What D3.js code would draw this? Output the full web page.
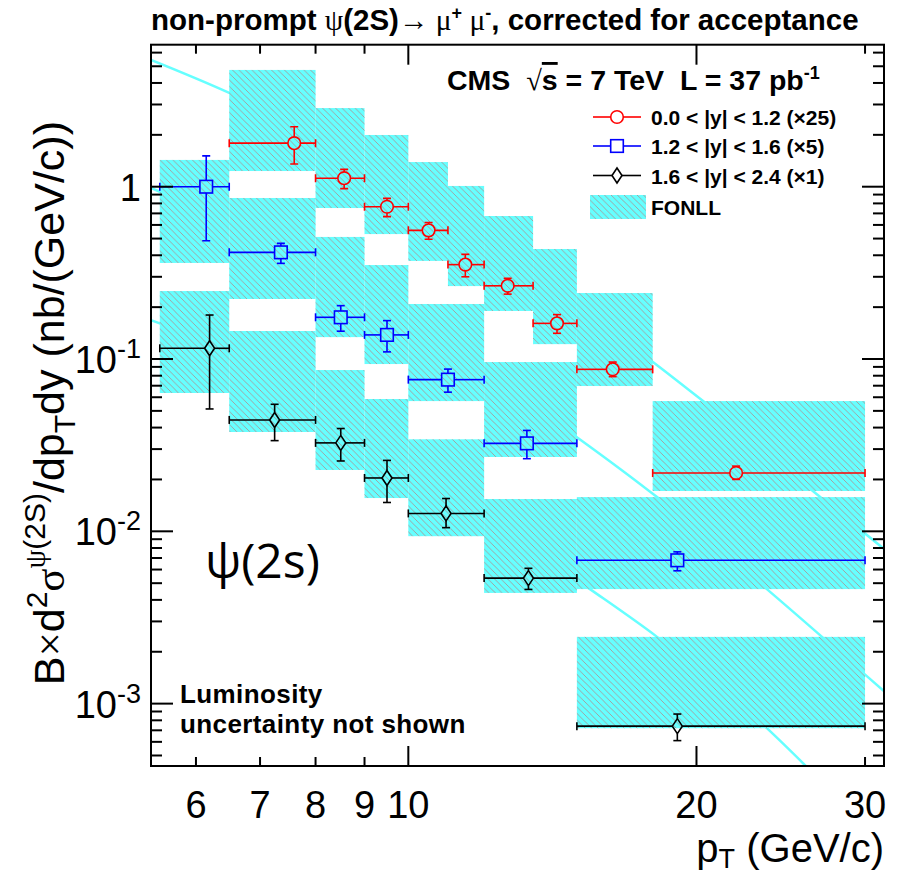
<!DOCTYPE html>
<html><head><meta charset="utf-8">
<script src="https://cdn.jsdelivr.net/npm/d3@7"></script>
<style>body{margin:0;background:#fff}svg{display:block}</style>
</head><body><svg id="c" width="905" height="876"></svg>
<script>
// ---------------- DATA ----------------
// 0.0<|y|<1.2 (x25)
const binLo0 = [6.5, 8, 9, 10, 11, 12, 13.5, 15, 18];
const binHi0 = [8, 9, 10, 11, 12, 13.5, 15, 18, 30];
const pt0    = [7.6, 8.57, 9.5, 10.5, 11.47, 12.7, 14.3, 16.35, 22.0];
const val0   = [1.79, 1.12, 0.765, 0.558, 0.353, 0.266, 0.161, 0.0871, 0.0218];
const errHi0 = [2.23, 1.26, 0.856, 0.62, 0.405, 0.294, 0.181, 0.096, 0.0239];
const errLo0 = [1.355, 0.974, 0.67, 0.495, 0.30, 0.238, 0.141, 0.079, 0.020];
const fonllHi0 = [4.76, 2.86, 1.996, 1.39, 1.01, 0.676, 0.435, 0.2415, 0.057];
const fonllLo0 = [1.233, 0.752, 0.531, 0.371, 0.265, 0.19, 0.122, 0.0697, 0.01714];
// 1.2<|y|<1.6 (x5)
const binLo1 = [5.5, 6.5, 8, 9, 10, 12, 15];
const binHi1 = [6.5, 8, 9, 10, 12, 15, 30];
const pt1    = [6.15, 7.36, 8.5, 9.5, 11.0, 13.3, 19.1];
const val1   = [1.0, 0.416, 0.1746, 0.138, 0.0759, 0.0324, 0.00679];
const errHi1 = [1.51, 0.469, 0.204, 0.167, 0.0874, 0.0385, 0.0076];
const errLo1 = [0.486, 0.359, 0.145, 0.11, 0.0642, 0.0264, 0.0059];
const fonllHi1 = [1.43, 0.86, 0.511, 0.351, 0.2086, 0.096, 0.0158];
const fonllLo1 = [0.361, 0.223, 0.134, 0.0935, 0.057, 0.027, 0.00462];
// 1.6<|y|<2.4 (x1)
const binLo2 = [5.5, 6.5, 8, 9, 10, 12, 15];
const binHi2 = [6.5, 8, 9, 10, 12, 15, 30];
const pt2    = [6.2, 7.25, 8.5, 9.5, 10.95, 13.35, 19.1];
const val2   = [0.1154, 0.0443, 0.0326, 0.0204, 0.0127, 0.00535, 0.00074];
const errHi2 = [0.18, 0.0546, 0.0395, 0.0258, 0.0155, 0.0061, 0.00087];
const errLo2 = [0.0513, 0.0336, 0.0256, 0.0147, 0.0105, 0.0046, 0.00061];
const fonllHi2 = [0.248, 0.1454, 0.0863, 0.0586, 0.0342, 0.0154, 0.00244];
const fonllLo2 = [0.0635, 0.0377, 0.0227, 0.0156, 0.00937, 0.00439, 0.00072];
// FONLL central curves
const curvePt0  = [5.385, 6.5, 18.01, 20.32, 26.46, 31.4];
const curveVal0 = [5.44, 3.50, 0.0962, 0.057, 0.01714, 0.0079];
const curvePt1  = [5.385, 5.5, 15.0, 18.19, 23.69, 31.4];
const curveVal1 = [0.983, 0.935, 0.0352, 0.0158, 0.00462, 0.00118];
const curvePt2  = [5.385, 5.5, 15.48, 18.19, 23.69, 25.96, 26.92];
const curveVal2 = [0.168, 0.161, 0.00462, 0.00244, 0.00072, 0.00044, 0.00036];
// axes
const xTicks = [6, 7, 8, 9, 10, 20, 30];
const xMajor = [10, 20];
const xTickLabels = ["6", "7", "8", "9", "10", "20", "30"];
const yLabelVals = [1, 0.1, 0.01, 0.001];
const yLabelExp  = ["", "-1", "-2", "-3"];
const legendLabels = ["0.0 < |y| < 1.2 (\u00d725)", "1.2 < |y| < 1.6 (\u00d75)", "1.6 < |y| < 2.4 (\u00d71)", "FONLL"];

// ---------------- SETUP ----------------
const L = 151, R = 884, T = 44.7, B = 766;
const svg = d3.select("#c");
const x = d3.scaleLog().domain([5.385, 31.4]).range([L, R]);
const y = d3.scaleLog().domain([4.345e-4, 6.67]).range([B, T]);
const CYAN = "#66ffff";
const SANS = "'Liberation Sans', Arial, Helvetica, sans-serif";
const SERIF = "'Liberation Serif', 'DejaVu Serif', serif";
const NB = "\u00a0";

const defs = svg.append("defs");
defs.append("clipPath").attr("id", "frame").append("rect")
  .attr("x", L).attr("y", T).attr("width", R - L).attr("height", B - T);
const pat = defs.append("pattern").attr("id", "hatch").attr("patternUnits", "userSpaceOnUse")
  .attr("width", 6.5).attr("height", 6.5);
pat.append("path").attr("d", "M-1,-1 L7.5,7.5 M-1,5.5 L1,7.5 M5.5,-1 L7.5,1")
  .attr("stroke", "#b08c8c").attr("stroke-width", 0.8).attr("fill", "none");

const plot = svg.append("g").attr("clip-path", "url(#frame)");

// curves
const line = d3.line().x(d => x(d[0])).y(d => y(d[1])).curve(d3.curveMonotoneX);
[[curvePt0, curveVal0], [curvePt1, curveVal1], [curvePt2, curveVal2]].forEach(([p, v]) => {
  plot.append("path").datum(p.map((d, i) => [d, v[i]])).attr("d", line)
    .attr("fill", "none").attr("stroke", CYAN).attr("stroke-width", 2.5);
});

// bands
const series = [
  {lo: binLo0, hi: binHi0, pt: pt0, v: val0, eh: errHi0, el: errLo0, fh: fonllHi0, fl: fonllLo0, color: "#ff0000", m: "circle"},
  {lo: binLo1, hi: binHi1, pt: pt1, v: val1, eh: errHi1, el: errLo1, fh: fonllHi1, fl: fonllLo1, color: "#0000ff", m: "square"},
  {lo: binLo2, hi: binHi2, pt: pt2, v: val2, eh: errHi2, el: errLo2, fh: fonllHi2, fl: fonllLo2, color: "#000000", m: "diamond"}
];
series.forEach(s => {
  s.lo.forEach((lo, i) => {
    const rx = x(lo), rw = x(s.hi[i]) - x(lo), ry = y(s.fh[i]), rh = y(s.fl[i]) - y(s.fh[i]);
    plot.append("rect").attr("x", rx).attr("y", ry).attr("width", rw).attr("height", rh).attr("fill", CYAN);
    plot.append("rect").attr("x", rx).attr("y", ry).attr("width", rw).attr("height", rh).attr("fill", "url(#hatch)");
  });
});

// markers
const MS = {circle: [6.3, 6.3], square: [6.3, 6.3], diamond: [5, 7.5]};
function drawMarker(g, type, cx, cy, color) {
  if (type === "circle") {
    g.append("circle").attr("cx", cx).attr("cy", cy).attr("r", MS.circle[0])
      .attr("fill", "none").attr("stroke", color).attr("stroke-width", 1.6);
  } else if (type === "square") {
    const h = MS.square[0];
    g.append("rect").attr("x", cx - h).attr("y", cy - h).attr("width", 2 * h).attr("height", 2 * h)
      .attr("fill", "none").attr("stroke", color).attr("stroke-width", 1.6);
  } else {
    const [hw, hh] = MS.diamond;
    g.append("path").attr("d", `M${cx},${cy - hh}L${cx + hw},${cy}L${cx},${cy + hh}L${cx - hw},${cy}Z`)
      .attr("fill", "none").attr("stroke", color).attr("stroke-width", 1.6);
  }
}
const CAP = 4;
series.forEach(s => {
  const g = plot.append("g").attr("stroke", s.color).attr("stroke-width", 1.6);
  const [mx, my] = MS[s.m];
  s.pt.forEach((p, i) => {
    const cx = x(p), cy = y(s.v[i]);
    const x0 = x(s.lo[i]), x1 = x(s.hi[i]), y0 = y(s.eh[i]), y1 = y(s.el[i]);
    const seg = (a, b, c, d) => g.append("line").attr("x1", a).attr("y1", b).attr("x2", c).attr("y2", d);
    if (cx - mx > x0) seg(x0, cy, cx - mx, cy);
    if (cx + mx < x1) seg(cx + mx, cy, x1, cy);
    seg(x0, cy - CAP, x0, cy + CAP); seg(x1, cy - CAP, x1, cy + CAP);
    if (y0 < cy - my) seg(cx, y0, cx, cy - my);
    if (y1 > cy + my) seg(cx, cy + my, cx, y1);
    seg(cx - CAP, y0, cx + CAP, y0); seg(cx - CAP, y1, cx + CAP, y1);
    drawMarker(g, s.m, cx, cy, s.color);
  });
});

// ---------------- AXES ----------------
const ax = svg.append("g").attr("stroke", "#000").attr("stroke-width", 2);
ax.append("rect").attr("x", L).attr("y", T).attr("width", R - L).attr("height", B - T).attr("fill", "none");
xTicks.forEach(t => {
  const len = xMajor.includes(t) ? 20 : 9;
  const px = x(t);
  ax.append("line").attr("x1", px).attr("x2", px).attr("y1", B).attr("y2", B - len);
  ax.append("line").attr("x1", px).attr("x2", px).attr("y1", T).attr("y2", T + len);
});
const [ymin, ymax] = y.domain();
for (let e = -4; e <= 1; e++) {
  for (let m = 1; m <= 9; m++) {
    const v = m * Math.pow(10, e);
    if (v < ymin || v > ymax) continue;
    const len = m === 1 ? 22 : 11;
    const py = y(v);
    ax.append("line").attr("x1", L).attr("x2", L + len).attr("y1", py).attr("y2", py);
    ax.append("line").attr("x1", R).attr("x2", R - len).attr("y1", py).attr("y2", py);
  }
}
// x tick labels
xTicks.forEach((t, i) => {
  svg.append("text").attr("x", x(t)).attr("y", 818).attr("text-anchor", "middle")
    .attr("font-family", SANS).attr("font-size", 38).text(xTickLabels[i]);
});
// y tick labels
yLabelVals.forEach((v, i) => {
  const t = svg.append("text").attr("x", 141).attr("y", y(v) + 14).attr("text-anchor", "end")
    .attr("font-family", SANS).attr("font-size", 38);
  if (yLabelExp[i] === "") t.text("1");
  else {
    t.append("tspan").text("10");
    t.append("tspan").attr("font-size", 27).attr("dy", -15).text(yLabelExp[i]);
  }
});
// x title
const xt = svg.append("text").attr("x", 884).attr("y", 862).attr("text-anchor", "end")
  .attr("font-family", SANS).attr("font-size", 40);
xt.append("tspan").text("p");
xt.append("tspan").attr("font-size", 27).attr("dy", 6).text("T");
xt.append("tspan").attr("dy", -6).text(" (GeV/c)");
// y title
const yt = svg.append("text").attr("transform", "translate(64,121) rotate(-90)").attr("text-anchor", "end")
  .attr("font-family", SANS).attr("font-size", 43);
yt.append("tspan").text("B");
yt.append("tspan").attr("font-family", SERIF).text("\u00d7");
yt.append("tspan").text("d");
yt.append("tspan").attr("font-size", 30).attr("dy", -17).text("2");
yt.append("tspan").attr("dy", 17).attr("font-family", SERIF).text("\u03c3");
yt.append("tspan").attr("font-size", 30).attr("dy", -19).attr("font-family", SERIF).text("\u03c8");
yt.append("tspan").attr("font-size", 30).text("(2S)");
yt.append("tspan").attr("dy", 19).text("/dp");
yt.append("tspan").attr("font-size", 30).attr("dy", 11).text("T");
yt.append("tspan").attr("dy", -11).text("dy (nb/(GeV/c))");

// title
const tt = svg.append("text").attr("x", 151).attr("y", 30).attr("font-family", SANS)
  .attr("font-weight", "bold").attr("font-size", 29.5);
tt.append("tspan").text("non-prompt ");
tt.append("tspan").attr("font-family", SERIF).attr("font-weight", "normal").text("\u03c8");
tt.append("tspan").text("(2S)");
tt.append("tspan").attr("font-family", SERIF).attr("font-weight", "normal").text("\u2192 \u03bc");
tt.append("tspan").attr("font-size", 18).attr("dy", -11).text("+");
tt.append("tspan").attr("dy", 11).attr("font-family", SERIF).attr("font-weight", "normal").text(" \u03bc");
tt.append("tspan").attr("font-size", 18).attr("dy", -11).text("-");
tt.append("tspan").attr("dy", 11).text(", corrected for acceptance");

// CMS label
const cms = svg.append("text").attr("x", 447).attr("y", 90).attr("font-family", SANS)
  .attr("font-weight", "bold").attr("font-size", 28.5);
cms.append("tspan").text("CMS" + NB + NB);
cms.append("tspan").attr("font-weight", "normal").attr("font-family", SERIF).text("\u221a");
cms.append("tspan").attr("text-decoration", "overline").text("s");
cms.append("tspan").text(" = 7 TeV" + NB + NB + "L = 37 pb");
cms.append("tspan").attr("font-size", 18).attr("dy", -11).text("-1");

// legend
const legY = [117, 146, 175.5];
series.forEach((s, i) => {
  const g = svg.append("g").attr("stroke", s.color).attr("stroke-width", 1.6);
  const cx = 617, cy = legY[i];
  const [mx] = MS[s.m];
  g.append("line").attr("x1", 593).attr("x2", cx - mx).attr("y1", cy).attr("y2", cy);
  g.append("line").attr("x1", cx + mx).attr("x2", 641).attr("y1", cy).attr("y2", cy);
  drawMarker(g, s.m, cx, cy, s.color);
  svg.append("text").attr("x", 651).attr("y", cy + 8).attr("font-family", SANS)
    .attr("font-weight", "bold").attr("font-size", 21).text(legendLabels[i]);
});
svg.append("rect").attr("x", 590).attr("y", 195).attr("width", 56).attr("height", 24).attr("fill", CYAN);
svg.append("rect").attr("x", 590).attr("y", 195).attr("width", 56).attr("height", 24).attr("fill", "url(#hatch)");
svg.append("text").attr("x", 651).attr("y", 215).attr("font-family", SANS)
  .attr("font-weight", "bold").attr("font-size", 21).text(legendLabels[3]);

// annotations
svg.append("text").attr("x", 205).attr("y", 578).attr("font-family", "'Open Sans', 'DejaVu Sans', sans-serif")
  .attr("font-size", 48).text("\u03c8(2s)");
svg.append("text").attr("x", 180).attr("y", 703).attr("font-family", SANS).attr("font-weight", "bold")
  .attr("font-size", 26).attr("letter-spacing", 0.4).text("Luminosity");
svg.append("text").attr("x", 180).attr("y", 733).attr("font-family", SANS).attr("font-weight", "bold")
  .attr("font-size", 26).attr("letter-spacing", 0.4).text("uncertainty not shown");
</script>
</body></html>
